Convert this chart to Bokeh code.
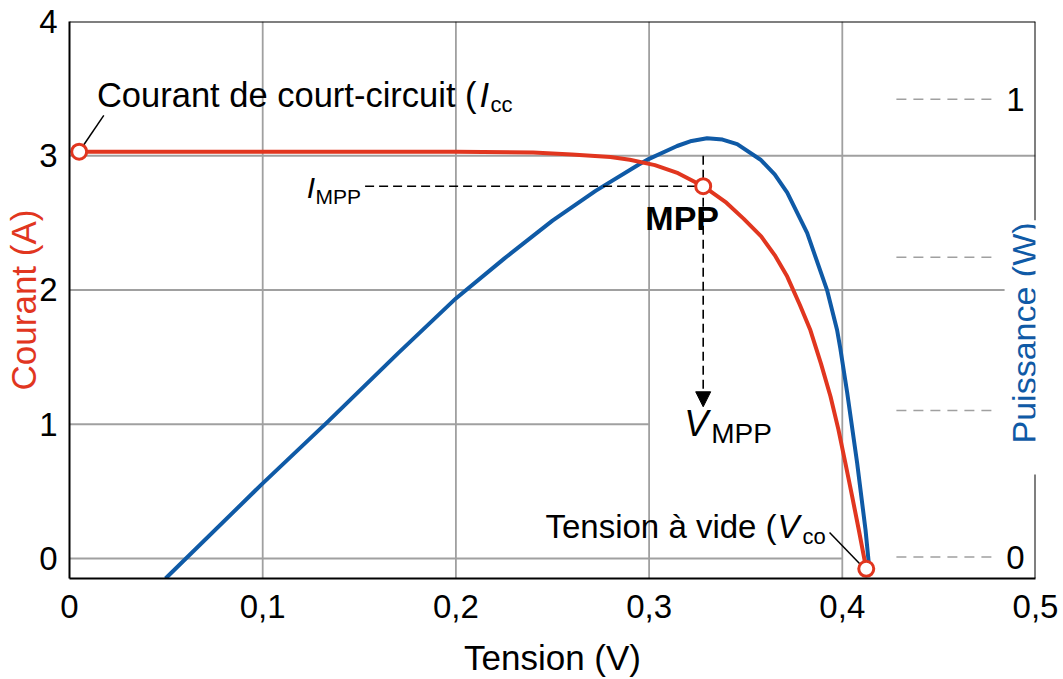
import math
from bokeh.plotting import figure
from bokeh.models import (Range1d, FixedTicker, Label, Span, Arrow, NormalHead)
from bokeh.embed import file_html
from bokeh.resources import INLINE

# ---------------- data ----------------
# I-V curve (Tension in V, Courant in A)
tension_iv = [0.005, 0.05, 0.10, 0.15, 0.20, 0.24, 0.26, 0.28, 0.29, 0.303, 0.315,
              0.328, 0.340, 0.349, 0.358, 0.365, 0.3715, 0.378, 0.3835, 0.389,
              0.3939, 0.398, 0.4016, 0.405, 0.4085, 0.4124]
courant = [3.03, 3.03, 3.03, 3.03, 3.03, 3.025, 3.01, 2.99, 2.97, 2.93, 2.87,
           2.773, 2.65, 2.53, 2.40, 2.26, 2.10, 1.89, 1.70, 1.45,
           1.207, 0.96, 0.71, 0.47, 0.216, -0.077]

# P-V curve (Tension in V, Puissance in W)
tension_p = [0.0497, 0.10, 0.134, 0.17, 0.20, 0.225, 0.25, 0.2723, 0.2945, 0.30,
             0.3145, 0.322, 0.330, 0.338, 0.3456, 0.3577, 0.365, 0.3715, 0.3818,
             0.3922, 0.3973, 0.399, 0.4025, 0.4077, 0.412, 0.4137]
puissance = [-0.047, 0.161, 0.297, 0.445, 0.565, 0.652, 0.735, 0.800, 0.857, 0.870,
             0.898, 0.909, 0.915, 0.912, 0.902, 0.868, 0.836, 0.796, 0.708,
             0.582, 0.496, 0.455, 0.360, 0.205, 0.060, -0.013]

# remarkable points
icc_v, icc_i = 0.005, 3.03        # short-circuit current
mpp_v, mpp_i = 0.328, 2.773       # maximum power point
voc_v, voc_i = 0.4124, -0.077     # open-circuit voltage

# axes / ticks
x_ticks = [0, 0.1, 0.2, 0.3, 0.4, 0.5]
x_tick_labels = ["0", "0,1", "0,2", "0,3", "0,4", "0,5"]
y_ticks = [0, 1, 2, 3, 4]
y_tick_labels = ["0", "1", "2", "3", "4"]
power_ticks = [0, 0.32, 0.655, 1]
power_tick_labels = ["0", "", "", "1"]

# grid lines (level, extent)
hgrid_levels = [0, 1, 2, 3]
hgrid_ends = [0.4, 0.3, 0.484, 0.5]
vgrid_levels = [0.1, 0.2, 0.3, 0.4]

# ---------------- styles ----------------
RED = "#e1361f"
BLUE = "#0f5aa6"
GRID = "#a0a0a0"
FONT = "Liberation Sans"

X0, X1 = 0.0, 0.5
Y0, Y1 = -0.149, 4.0
P0, P1 = -0.0469, 1.170

p = figure(width=1063, height=679, output_backend="svg", toolbar_location=None,
           x_range=Range1d(X0, X1), y_range=Range1d(Y0, Y1),
           min_border_left=69, min_border_right=28, min_border_top=21,
           min_border_bottom=100)
p.extra_y_ranges = {"power": Range1d(P0, P1)}
p.outline_line_color = None
p.xgrid.visible = False
p.ygrid.visible = False
p.background_fill_color = "white"
p.border_fill_color = "white"

xa = p.xaxis[0]
ya = p.yaxis[0]
xa.ticker = FixedTicker(ticks=x_ticks)
xa.major_label_overrides = {t: l for t, l in zip(x_ticks, x_tick_labels)}
ya.ticker = FixedTicker(ticks=y_ticks)
ya.major_label_overrides = {t: l for t, l in zip(y_ticks, y_tick_labels)}
for ax in (xa, ya):
    ax.major_tick_in = 0
    ax.major_tick_out = 0
    ax.minor_tick_in = 0
    ax.minor_tick_out = 0
    ax.major_tick_line_color = None
    ax.minor_tick_line_color = None
    ax.axis_line_color = "black"
    ax.axis_line_width = 2
    ax.major_label_text_font = FONT
    ax.major_label_text_font_size = "33px"
    ax.major_label_text_color = "black"
    ax.axis_label_text_font = FONT
    ax.axis_label_text_font_size = "35px"
    ax.axis_label_text_font_style = "normal"
xa.major_label_standoff = 16
ya.major_label_standoff = 12
xa.axis_label = "Tension (V)"
xa.axis_label_text_color = "black"
xa.axis_label_standoff = 17
ya.axis_label = "Courant (A)"
ya.axis_label_text_color = RED
ya.axis_label_standoff = -7

# top and right borders (right one interrupted by the label)
p.add_layout(Span(location=Y1, dimension="width", line_color="black", line_width=2))
p.add_layout(Arrow(end=None, x_start=X1, y_start=Y0, x_end=X1, y_end=0.625,
                   line_color="black", line_width=2))
p.add_layout(Arrow(end=None, x_start=X1, y_start=2.52, x_end=X1, y_end=Y1,
                   line_color="black", line_width=2))

# grid lines
p.segment(x0=[X0] * len(hgrid_levels), y0=hgrid_levels, x1=hgrid_ends, y1=hgrid_levels,
          line_color=GRID, line_width=1.8)
p.segment(x0=vgrid_levels, y0=[Y0] * len(vgrid_levels), x1=vgrid_levels,
          y1=[Y1] * len(vgrid_levels), line_color=GRID, line_width=1.8)

# right axis dashed ticks
p.segment(x0=[0.428] * len(power_ticks), y0=power_ticks, x1=[0.48] * len(power_ticks),
          y1=power_ticks, y_range_name="power", line_color=GRID, line_width=1.6,
          line_dash="10 7")

# curves
p.line(tension_p, puissance, y_range_name="power", line_color=BLUE, line_width=4)
p.line(tension_iv, courant, line_color=RED, line_width=4)

# MPP dashed guides
p.segment(x0=[0.153], y0=[mpp_i], x1=[mpp_v], y1=[mpp_i], line_color="black",
          line_width=1.6, line_dash="9 5")
p.segment(x0=[mpp_v], y0=[3.0], x1=[mpp_v], y1=[1.22], line_color="black",
          line_width=1.6, line_dash="9 5")
p.add_layout(Arrow(end=NormalHead(size=15, fill_color="black", line_color="black"),
                   x_start=mpp_v, y_start=1.4, x_end=mpp_v, y_end=1.13,
                   line_color=None))

# leader lines
p.segment(x0=[0.00725, 0.3934], y0=[3.078, 0.193], x1=[0.01775, 0.4094],
          y1=[3.301, -0.045], line_color="black", line_width=1.5)

# marked points
p.scatter([icc_v, mpp_v, voc_v], [icc_i, mpp_i, voc_i], marker="circle", size=15,
          line_color=RED, line_width=3, fill_color="white")


def lab(text, x, y, size="34px", style="normal", align="left", baseline="middle",
        color="black", xo=0, yo=0, angle=0.0, y_range_name="default"):
    p.add_layout(Label(x=x, y=y, text=text, x_offset=xo, y_offset=yo,
                       text_font=FONT, text_font_size=size, text_font_style=style,
                       text_align=align, text_baseline=baseline, text_color=color,
                       angle=angle, y_range_name=y_range_name))


# Icc annotation
lab("Courant de court-circuit (", 0.2107, 3.451, size="34.5px", align="right")
lab("I", 0.2107, 3.451, size="34.5px", style="italic", xo=3)
lab("cc", 0.2107, 3.451, size="22px", xo=14, yo=-9)

# I_MPP
lab("I", 0.153, mpp_i, size="30px", style="italic", align="right", xo=-50, yo=-1)
lab("MPP", 0.153, mpp_i, size="21px", align="right", xo=-4, yo=-10)

# MPP
lab("MPP", mpp_v, mpp_i, style="bold", align="center", xo=-21, yo=-32)

# V_MPP
lab("V", mpp_v, 1.004, size="36px", style="italic", xo=-19)
lab("MPP", mpp_v, 0.929, size="28px", xo=8)

# Voc annotation
lab("Tension à vide (", 0.366, 0.239, size="33px", align="right")
lab("V", 0.366, 0.239, size="33px", style="italic", xo=1)
lab("co", 0.366, 0.239, size="22px", xo=26, yo=-10)

# right-axis tick labels
for t, l in zip(power_ticks, power_tick_labels):
    if l:
        lab(l, X1, t, size="33px", align="right", baseline="middle", xo=-11,
            y_range_name="power")

# right axis title
lab("Puissance (W)", X1, 1.68, size="34px", align="center", color=BLUE, xo=-12,
    angle=math.pi / 2)

open("out.html", "w").write(file_html(p, INLINE))
